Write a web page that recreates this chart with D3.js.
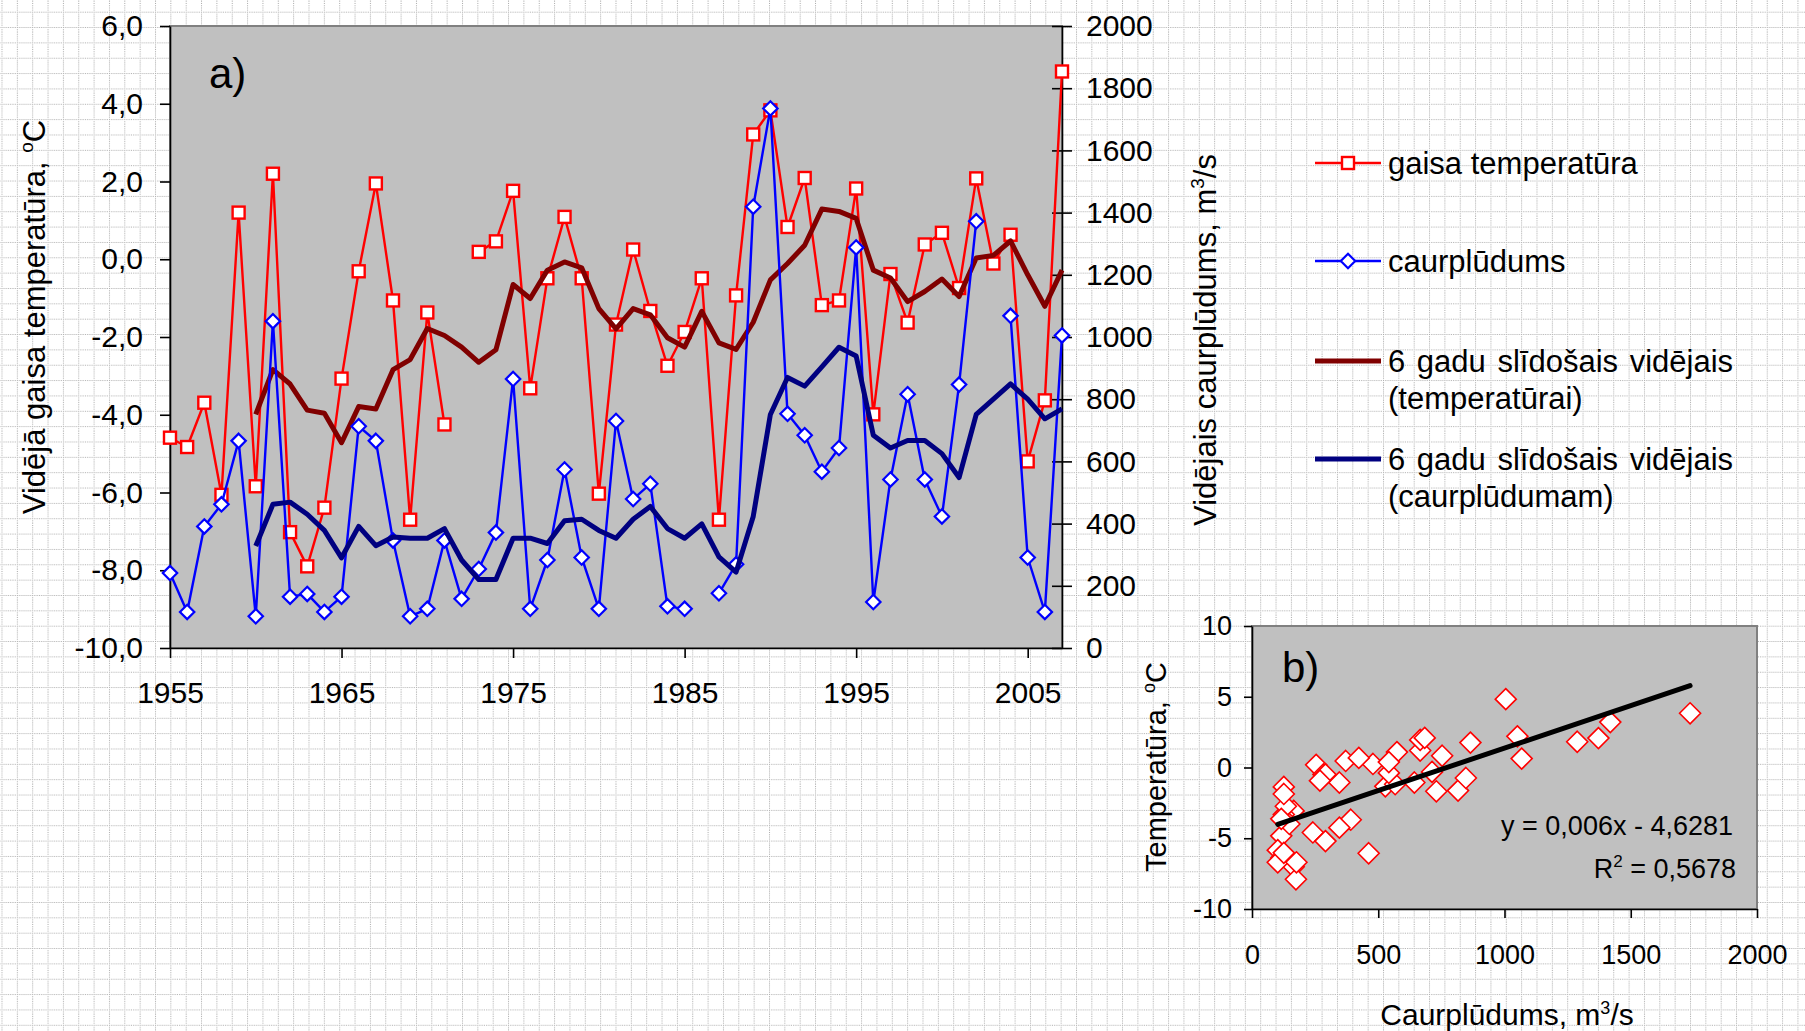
<!DOCTYPE html>
<html>
<head>
<meta charset="utf-8">
<script src="https://cdn.jsdelivr.net/npm/d3@7"></script>
<style>
body { margin: 0; background: #fff; }
svg text { font-family: "Liberation Sans", Arial, sans-serif; fill: #000; }
</style>
</head>
<body>
<div id="main_div"></div>
<script>
// years on the category axis
var years = [1955, 1956, 1957, 1958, 1959, 1960, 1961, 1962, 1963, 1964,
    1965, 1966, 1967, 1968, 1969, 1970, 1971, 1972, 1973, 1974,
    1975, 1976, 1977, 1978, 1979, 1980, 1981, 1982, 1983, 1984,
    1985, 1986, 1987, 1988, 1989, 1990, 1991, 1992, 1993, 1994,
    1995, 1996, 1997, 1998, 1999, 2000, 2001, 2002, 2003, 2004,
    2005, 2006, 2007];

// gaisa temperatura, C (null = no data)
var temp = [-4.59, -4.83, -3.69, -6.06, 1.20, -5.84, 2.20, -7.02, -7.90, -6.39,
    -3.07, -0.31, 1.95, -1.06, -6.70, -1.37, -4.25, null, 0.19, 0.46,
    1.76, -3.32, -0.49, 1.09, -0.49, -6.03, -1.68, 0.25, -1.33, -2.74,
    -1.87, -0.49, -6.70, -0.93, 3.21, 3.83, 0.83, 2.09, -1.18, -1.06,
    1.82, -3.99, -0.38, -1.63, 0.38, 0.68, -0.74, 2.08, -0.11, 0.63,
    -5.20, -3.63, 4.83];

// caurpludums, m3/s
var flow = [241, 116, 391, 462, 666, 102, 1051, 165, 174, 116,
    165, 713, 666, 346, 102, 126, 346, 158, 254, 371,
    865, 126, 283, 574, 291, 126, 730, 479, 528, 134,
    126, null, 176, 269, 1419, 1735, 753, 684, 567, 643,
    1288, 148, 542, 816, 542, 423, 847, 1372, null, 1068,
    291, 116, 1005];

// 6 gadu slidosais videjais
var ma_years = [1960, 1961, 1962, 1963, 1964, 1965, 1966, 1967, 1968, 1969,
    1970, 1971, 1972, 1973, 1974, 1975, 1976, 1977, 1978, 1979,
    1980, 1981, 1982, 1983, 1984, 1985, 1986, 1987, 1988, 1989,
    1990, 1991, 1992, 1993, 1994, 1995, 1996, 1997, 1998, 1999,
    2000, 2001, 2002, 2003, 2004, 2005, 2006, 2007];
var temp_ma = [-3.99, -2.84, -3.21, -3.88, -3.96, -4.72, -3.79, -3.85, -2.84, -2.58,
    -1.78, -1.96, -2.26, -2.65, -2.33, -0.65, -1.01, -0.28, -0.07, -0.22,
    -1.27, -1.79, -1.27, -1.43, -2.02, -2.26, -1.34, -2.15, -2.32, -1.62,
    -0.53, -0.11, 0.36, 1.29, 1.23, 1.05, -0.28, -0.48, -1.09, -0.83,
    -0.51, -0.96, 0.03, 0.10, 0.47, -0.40, -1.21, -0.28];
var flow_ma = [328, 462, 469, 430, 378, 290, 391, 329, 357, 353,
    353, 384, 283, 220, 220, 353, 353, 336, 409, 414,
    378, 353, 414, 455, 384, 353, 399, 293, 244, 423,
    751, 870, 842, 904, 967, 939, 684, 643, 667, 667,
    625, 548, 751, 800, 849, 800, 737, 769];

var temp_ticks = [-10, -8, -6, -4, -2, 0, 2, 4, 6];
var flow_ticks = [0, 200, 400, 600, 800, 1000, 1200, 1400, 1600, 1800, 2000];
var year_ticks = [1955, 1965, 1975, 1985, 1995, 2005];
var scat_x_ticks = [0, 500, 1000, 1500, 2000];
var scat_y_ticks = [-10, -5, 0, 5, 10];

var trend_slope = 0.006;
var trend_intercept = -4.6281;
var trend_label = "y = 0,006x - 4,6281";
var r2_label = " = 0,5678";

var legend_items = [
    {text: ["gaisa temperatūra"], color: "#FF0000", width: 2.4, marker: "square"},
    {text: ["caurplūdums"], color: "#0000FF", width: 2.4, marker: "diamond"},
    {text: ["6 gadu slīdošais vidējais", "(temperatūrai)"], color: "#800000", width: 5, marker: null},
    {text: ["6 gadu slīdošais vidējais", "(caurplūdumam)"], color: "#000080", width: 5, marker: null}
];

var FONT = "Liberation Sans, Arial, sans-serif";

var svg = d3.select("#main_div").append("svg").attr("width", 1805).attr("height", 1031);

// dotted page grid
var pat = svg.append("defs").append("pattern")
    .attr("id", "grid").attr("patternUnits", "userSpaceOnUse")
    .attr("x", 1.5).attr("y", 11.7).attr("width", 15.35).attr("height", 15.35);
pat.append("line").attr("x1", 0).attr("y1", 0.5).attr("x2", 15.35).attr("y2", 0.5)
    .attr("stroke", "#a8a8a8").attr("stroke-dasharray", "1,1.2");
pat.append("line").attr("x1", 0.5).attr("y1", 0).attr("x2", 0.5).attr("y2", 15.35)
    .attr("stroke", "#a8a8a8").attr("stroke-dasharray", "1,1.2");
svg.append("rect").attr("width", 1805).attr("height", 1031).attr("fill", "#fff");
svg.append("rect").attr("width", 1805).attr("height", 1031).attr("fill", "url(#grid)");

function diamond(r) {
    return "M0," + (-r) + "L" + r + ",0L0," + r + "L" + (-r) + ",0Z";
}
var fmt1 = function(d) { return d.toFixed(1).replace(".", ","); };
var fmt0 = function(d) { return String(d); };

function styleAxis(g, size) {
    g.attr("font-family", FONT).attr("font-size", size);
    g.selectAll("path, line").attr("stroke", "#000").attr("stroke-width", 1.6);
}

// ---------- a) time series ----------
var x_scale = d3.scaleLinear().domain([1955, 2007]).range([170, 1062]);
var t_scale = d3.scaleLinear().domain([-10, 6]).range([648, 26]);
var q_scale = d3.scaleLinear().domain([0, 2000]).range([648, 26]);

svg.append("rect").attr("x", 170).attr("y", 26).attr("width", 892).attr("height", 622)
    .attr("fill", "#C0C0C0").attr("stroke", "#808080").attr("stroke-width", 2);

var g_y = svg.append("g").attr("transform", "translate(170,0)")
    .call(d3.axisLeft(t_scale).tickValues(temp_ticks).tickFormat(fmt1).tickSize(10).tickSizeOuter(0).tickPadding(17));
styleAxis(g_y, 30);

var g_r = svg.append("g").attr("transform", "translate(1062,0)")
    .call(d3.axisRight(q_scale).tickValues(flow_ticks).tickFormat(fmt0).tickSize(10).tickSizeOuter(0).tickPadding(14));
g_r.selectAll(".tick line").attr("x1", -10);
styleAxis(g_r, 30);

var g_x = svg.append("g").attr("transform", "translate(0,648)")
    .call(d3.axisBottom(x_scale).tickValues(year_ticks).tickFormat(fmt0).tickSize(10).tickSizeOuter(0).tickPadding(24));
styleAxis(g_x, 30);

var temp_data = years.map(function(y, i) { return {year: y, v: temp[i]}; });
var flow_data = years.map(function(y, i) { return {year: y, v: flow[i]}; });
var temp_ma_data = ma_years.map(function(y, i) { return {year: y, v: temp_ma[i]}; });
var flow_ma_data = ma_years.map(function(y, i) { return {year: y, v: flow_ma[i]}; });

var line_t = d3.line().defined(function(d) { return d.v != null; })
    .x(function(d) { return x_scale(d.year); }).y(function(d) { return t_scale(d.v); });
var line_q = d3.line().defined(function(d) { return d.v != null; })
    .x(function(d) { return x_scale(d.year); }).y(function(d) { return q_scale(d.v); });

// temperature
svg.append("path").attr("d", line_t(temp_data)).attr("fill", "none")
    .attr("stroke", "#FF0000").attr("stroke-width", 2.4).attr("stroke-linejoin", "round");
svg.append("g").selectAll("rect").data(temp_data.filter(function(d) { return d.v != null; })).enter().append("rect")
    .attr("x", function(d) { return x_scale(d.year) - 6; })
    .attr("y", function(d) { return t_scale(d.v) - 6; })
    .attr("width", 12).attr("height", 12)
    .attr("fill", "#fff").attr("stroke", "#FF0000").attr("stroke-width", 2.4);

// temperature moving average
svg.append("path").attr("d", line_t(temp_ma_data)).attr("fill", "none")
    .attr("stroke", "#800000").attr("stroke-width", 5).attr("stroke-linejoin", "round");

// flow
svg.append("path").attr("d", line_q(flow_data)).attr("fill", "none")
    .attr("stroke", "#0000FF").attr("stroke-width", 2.4).attr("stroke-linejoin", "round");
svg.append("g").selectAll("path").data(flow_data.filter(function(d) { return d.v != null; })).enter().append("path")
    .attr("d", diamond(7.2))
    .attr("transform", function(d) { return "translate(" + x_scale(d.year) + "," + q_scale(d.v) + ")"; })
    .attr("fill", "#fff").attr("stroke", "#0000FF").attr("stroke-width", 2.2);

// flow moving average
svg.append("path").attr("d", line_q(flow_ma_data)).attr("fill", "none")
    .attr("stroke", "#000080").attr("stroke-width", 5).attr("stroke-linejoin", "round");

svg.append("text").attr("x", 209).attr("y", 88).attr("font-size", 42).text("a)");

// axis titles
var t1 = svg.append("text").attr("transform", "translate(45,317) rotate(-90)")
    .attr("text-anchor", "middle").attr("font-size", 31);
t1.append("tspan").text("Vidējā gaisa temperatūra, ");
t1.append("tspan").attr("font-size", 19).attr("dy", -12).text("o");
t1.append("tspan").attr("dy", 12).text("C");

var t2 = svg.append("text").attr("transform", "translate(1216,340) rotate(-90)")
    .attr("text-anchor", "middle").attr("font-size", 31);
t2.append("tspan").text("Vidējais caurplūdums, m");
t2.append("tspan").attr("font-size", 19).attr("dy", -12).text("3");
t2.append("tspan").attr("dy", 12).text("/s");

// legend
var leg_y = [163, 261, 361, 459];
var leg = svg.append("g").selectAll("g").data(legend_items).enter().append("g")
    .attr("transform", function(d, i) { return "translate(0," + leg_y[i] + ")"; });
leg.append("line").attr("x1", 1315).attr("x2", 1381).attr("y1", 0).attr("y2", 0)
    .attr("stroke", function(d) { return d.color; })
    .attr("stroke-width", function(d) { return d.width; });
leg.filter(function(d) { return d.marker === "square"; }).append("rect")
    .attr("x", 1348 - 6).attr("y", -6).attr("width", 12).attr("height", 12)
    .attr("fill", "#fff").attr("stroke", "#FF0000").attr("stroke-width", 2.4);
leg.filter(function(d) { return d.marker === "diamond"; }).append("path")
    .attr("d", diamond(7.2)).attr("transform", "translate(1348,0)")
    .attr("fill", "#fff").attr("stroke", "#0000FF").attr("stroke-width", 2.2);
leg.each(function(d) {
    var g = d3.select(this);
    d.text.forEach(function(t, j) {
        g.append("text").attr("x", 1388).attr("y", 11 + j * 37).attr("font-size", 31)
            .attr("word-spacing", j == 0 && d.text.length > 1 ? 3 : 0).text(t);
    });
});

// ---------- b) scatter ----------
var sx = d3.scaleLinear().domain([0, 2000]).range([1252, 1757]);
var sy = d3.scaleLinear().domain([-10, 10]).range([909, 626]);

svg.append("rect").attr("x", 1252).attr("y", 626).attr("width", 505).attr("height", 283)
    .attr("fill", "#C0C0C0").attr("stroke", "#808080").attr("stroke-width", 2);

var g_sy = svg.append("g").attr("transform", "translate(1252,0)")
    .call(d3.axisLeft(sy).tickValues(scat_y_ticks).tickFormat(fmt0).tickSize(8).tickSizeOuter(0).tickPadding(12));
styleAxis(g_sy, 27);
var g_sx = svg.append("g").attr("transform", "translate(0,909)")
    .call(d3.axisBottom(sx).tickValues(scat_x_ticks).tickFormat(fmt0).tickSize(9).tickSizeOuter(0).tickPadding(27));
styleAxis(g_sx, 27);

var pairs = years.map(function(y, i) { return {q: flow[i], t: temp[i]}; })
    .filter(function(d) { return d.q != null && d.t != null; });

svg.append("g").selectAll("path").data(pairs).enter().append("path")
    .attr("d", diamond(10.5))
    .attr("transform", function(d) { return "translate(" + sx(d.q) + "," + sy(d.t) + ")"; })
    .attr("fill", "#fff").attr("stroke", "#FF0000").attr("stroke-width", 1.6);

var q_ext = d3.extent(pairs, function(d) { return d.q; });
var trend_line = d3.line().x(function(d) { return sx(d); })
    .y(function(d) { return sy(trend_slope * d + trend_intercept); });
svg.append("path").attr("d", trend_line(q_ext)).attr("stroke", "#000")
    .attr("stroke-width", 5).attr("stroke-linecap", "round");

svg.append("text").attr("x", 1282).attr("y", 682).attr("font-size", 42).text("b)");

svg.append("text").attr("x", 1733).attr("y", 835).attr("text-anchor", "end")
    .attr("font-size", 27).text(trend_label);
var r2 = svg.append("text").attr("x", 1736).attr("y", 878).attr("text-anchor", "end").attr("font-size", 27);
r2.append("tspan").text("R");
r2.append("tspan").attr("font-size", 17).attr("dy", -11).text("2");
r2.append("tspan").attr("dy", 11).text(r2_label);

var t3 = svg.append("text").attr("transform", "translate(1166,767) rotate(-90)")
    .attr("text-anchor", "middle").attr("font-size", 29);
t3.append("tspan").text("Temperatūra, ");
t3.append("tspan").attr("font-size", 18).attr("dy", -11).text("o");
t3.append("tspan").attr("dy", 11).text("C");

var t4 = svg.append("text").attr("x", 1507).attr("y", 1025)
    .attr("text-anchor", "middle").attr("font-size", 30);
t4.append("tspan").text("Caurplūdums, m");
t4.append("tspan").attr("font-size", 18).attr("dy", -11).text("3");
t4.append("tspan").attr("dy", 11).text("/s");
</script>
</body>
</html>
